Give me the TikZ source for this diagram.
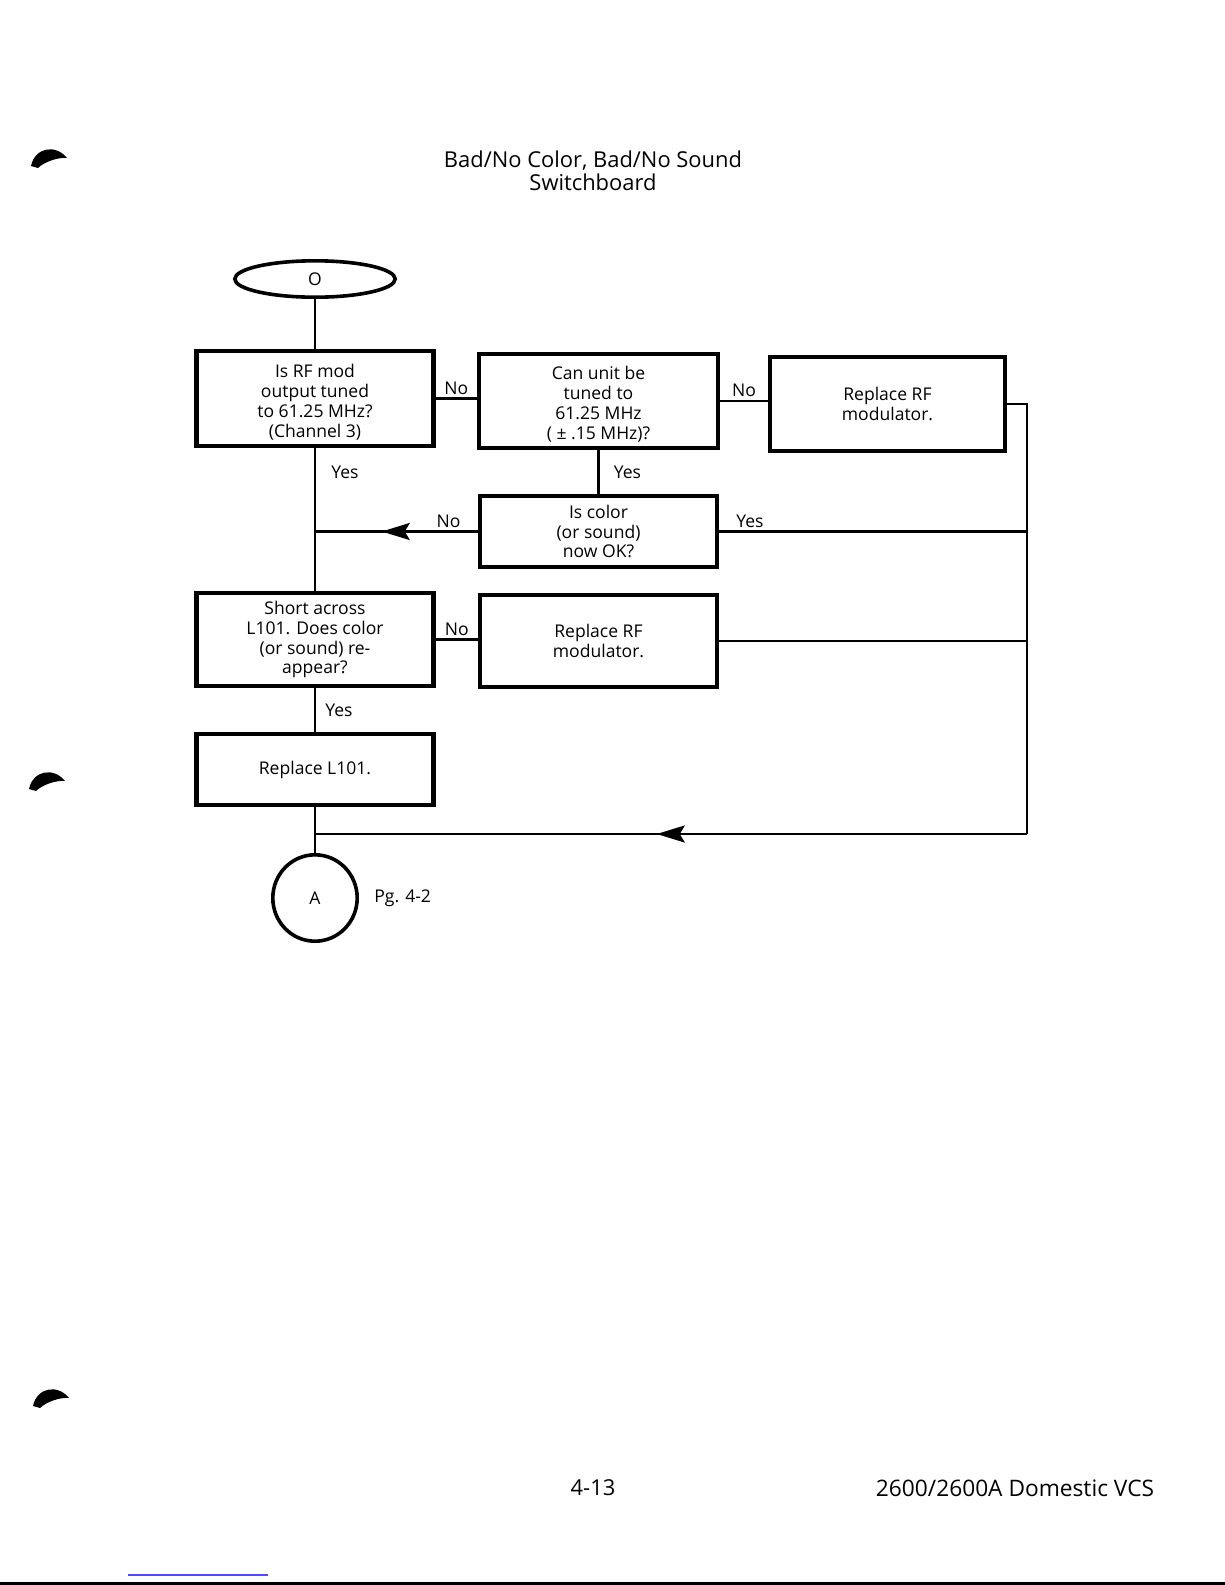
\documentclass[tikz,border=0pt]{standalone}
\usepackage{fontspec}
\setmainfont{Open Sans}
\usetikzlibrary{shapes.geometric, arrows.meta, decorations.markings, positioning}

\tikzset{
  box/.style={draw, rectangle, line width=2.2bp, minimum width=118.5bp,
    align=center, inner sep=0pt, font=\fontsize{8.8}{10}\selectfont},
  wire/.style={line width=1.3bp},
  lbl/.style={inner sep=1.5bp, font=\fontsize{8.8}{10}\selectfont},
  midtip/.style={postaction={decorate}, decoration={markings,
    mark=at position #1 with {\arrow{Stealth[length=14bp,width=8.5bp,inset=2.5bp]}}}}
}

\begin{document}
\begin{tikzpicture}[x=0.5bp,y=-0.5bp]
      \def\xr{1027}
      \def\yb{834}

      \fill[white] (0,0) rectangle (1225,1585);
      \useasboundingbox (0,0) rectangle (1225,1585);

      % page marks
      \foreach \px/\py in {-2/0, -4/623, 0/1240}
        \fill[shift={(\px,\py)}]
        (33,166) .. controls (37,147) and (58,144) .. (69,158)
        .. controls (60,157) and (46,162) .. (40,168) -- cycle;

      \node (title) at (593,170.5)
            [align=center, font=\fontsize{11}{11.5}\selectfont]
            {Bad/No Color, Bad/No Sound\\Switchboard};

      \node (start) at (315,279)
            [draw, ellipse, line width=1.8bp, minimum width=80.2bp,
             minimum height=18.2bp, inner sep=0pt, font=\fontsize{8.8}{10}\selectfont]
            {O};

      \node (tuned) at (315,398.5) [box, minimum height=47.3bp]
            {\rule{0pt}{10bp}Is RF mod\\output tuned\\to 61.25 MHz?\\(Channel 3)};
      \node (canTune) at (598.5,401) [box, minimum width=119.3bp, minimum height=46.8bp]
            {\rule{0pt}{10bp}Can unit be\\tuned to\\61.25 MHz\\( ± .15 MHz)?};
      \node (replRF1) at (887.5,404) [box, minimum width=117.3bp, minimum height=46.8bp]
            {Replace RF\\modulator.};
      \node (okNow) at (598.5,531.5) [box, minimum height=35.3bp]
            {Is color\\(or sound)\\now OK?};
      \node (shortL) at (315,639.5) [box, minimum height=46.3bp]
            {Short across\\L101. Does color\\(or sound) re-\\appear?};
      \node (replRF2) at (598.5,641) [box, minimum height=45.8bp]
            {Replace RF\\modulator.};
      \node (replL) at (315,769.5) [box, minimum height=35.3bp]
            {Replace L101.};

      \node (endA) at (315,898)
            [draw, ellipse, line width=1.8bp, minimum width=42.2bp,
             minimum height=43.2bp, inner sep=0pt, font=\fontsize{8.8}{10}\selectfont]
            {A};
      \node (pg) [right=6bp of endA, lbl] {Pg. 4-2};

      \coordinate (rt) at (\xr,404);
      \coordinate (rb) at (\xr,\yb);
      \coordinate (jb) at (315,\yb);

      % connectors
      \draw[wire] (start) -- (tuned);
      \draw[wire] (tuned.east) -- (tuned.east -| canTune.west)
            node[midway, above, lbl] {No};
      \draw[wire] (canTune.east) -- (canTune.east -| replRF1.west)
            node[midway, above, lbl] {No};
      \draw[wire] (canTune) -- (okNow)
            node[midway, right, lbl, xshift=5.5bp] {Yes};
      \draw[wire] (tuned) -- (shortL)
            node[pos=0.17, right, lbl, xshift=6bp] {Yes};
      \draw[wire, midtip=0.59] (okNow.west) -- (okNow.west -| tuned.south)
            node[pos=0.18, above, lbl] {No};
      \draw[wire] (okNow.east) -- (okNow.east -| rt)
            node[pos=0.1, above, lbl] {Yes};
      \draw[wire] (shortL.east) -- (shortL.east -| replRF2.west)
            node[midway, above, lbl] {No};
      \draw[wire] (replRF2.east) -- (replRF2.east -| rt);
      \draw[wire] (shortL) -- (replL)
            node[midway, right, lbl, xshift=3bp] {Yes};
      \draw[wire] (replL) -- (endA);
      \draw[wire] (replRF1.east) -- (rt) -- (rb);
      \draw[wire, midtip=0.52] (rb) -- (jb);

      \node (pgno) at (593,1488) [font=\fontsize{11}{12}\selectfont] {4-13};
      \node (model) at (1015,1488) [font=\fontsize{11.4}{12}\selectfont] {2600/2600A Domestic VCS};

      \draw[blue!70!white, line width=0.8bp] (128,1575) -- (268,1575);
      \draw[line width=1.5bp] (0,1583.5) -- (1225,1583.5);
\end{tikzpicture}
\end{document}
